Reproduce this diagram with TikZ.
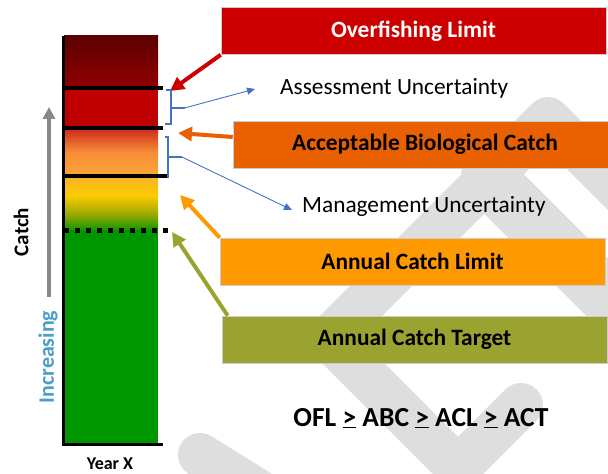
\documentclass[tikz,border=0pt]{standalone}
\usepackage{fontspec}
\setmainfont{Carlito}
\usetikzlibrary{arrows.meta}
\definecolor{wm}{RGB}{222,222,222}
\definecolor{oflred}{RGB}{204,0,0}
\definecolor{abcor}{RGB}{232,96,0}
\definecolor{aclor}{RGB}{255,153,0}
\definecolor{actol}{RGB}{155,163,48}
\definecolor{blueline}{RGB}{68,114,196}
\definecolor{incblue}{RGB}{75,158,200}
\definecolor{graya}{RGB}{136,136,136}
\definecolor{barred}{RGB}{190,0,0}
\definecolor{bargreen}{RGB}{0,150,0}
\begin{document}
\begin{tikzpicture}[x=1pt,y=1pt,
  box/.style={minimum width=385pt, minimum height=47pt, inner sep=0pt,
    font=\fontsize{23.4}{28}\selectfont\bfseries, draw=black!20, line width=0.6pt},
  plain/.style={font=\fontsize{23.3}{28}\selectfont, inner sep=0pt},
  bigarrow/.style={line width=4pt, -{Triangle[length=14pt,width=14pt]}},
  thinarrow/.style={line width=0.9pt, blueline, -{Triangle[length=8pt,width=7pt]}},
  brk/.style={line width=2pt, blueline},
  wmband/.style={wm, line cap=round, line join=round},
  blk/.style={line width=3.5pt, black}
]
\useasboundingbox (0,0) rectangle (608,474);
% watermark
\begin{scope}
\clip (0,0) rectangle (608,474);
\draw[wmband, line width=44pt] (680,223) -- (548,355) -- (328.5,135.5) -- (458,6) -- (521,69);
\draw[wmband, line width=56pt] (488.5,295.5) -- (700,84);
\draw[wmband, line width=44pt] (200,19) -- (327,-60);
\end{scope}
% bar
\shade[top color={rgb,255:red,92;green,0;blue,0}, bottom color={rgb,255:red,145;green,0;blue,0}] (64,386) rectangle (158,438);
\fill[barred] (64,346) rectangle (158,386);
\shade[top color={rgb,255:red,205;green,40;blue,25}, bottom color={rgb,255:red,252;green,168;blue,55}, middle color={rgb,255:red,247;green,140;blue,55}] (64,298) rectangle (158,346);
\shade[top color={rgb,255:red,251;green,178;blue,40}, bottom color={rgb,255:red,252;green,204;blue,0}] (64,278) rectangle (158,298.5);
\shade[top color={rgb,255:red,252;green,204;blue,0}, bottom color={rgb,255:red,10;green,150;blue,0}, middle color={rgb,255:red,160;green,170;blue,0}] (64,243) rectangle (158,278.5);
\fill[bargreen] (64,29) rectangle (158,243.5);
\draw[blk] (64,386) -- (163,386);
\draw[blk] (64,346) -- (163,346);
\draw[blk] (64,298) -- (168,298);
\draw[line width=5pt, dash pattern=on 5pt off 6pt] (64,243) -- (168,243);
\draw[line width=3pt] (63.5,438) -- (63.5,27.5);
\draw[line width=3pt] (62,29) -- (163,29);
% axis arrow and labels
\draw[line width=4pt, graya, -{Triangle[length=12pt,width=12pt]}] (49,177) -- (49,367);
\node[font=\fontsize{21}{24}\selectfont\bfseries, rotate=90] (catch) at (21,242) {Catch};
\node[font=\fontsize{22}{24}\selectfont\bfseries, rotate=90, text=incblue] (inc) at (48,117) {Increasing};
\node[font=\fontsize{18}{20}\selectfont\bfseries] (year) at (110,10) {Year X};
% boxes
\node[box, fill=oflred, text=white] (ofl) at (413.5,443) {Overfishing Limit};
\node[box, fill=abcor, minimum width=384pt] (abc) at (425,329.5) {Acceptable Biological Catch};
\node[box, fill=aclor] (acl) at (412.5,212.5) {Annual Catch Limit};
\node[box, fill=actol] (act) at (414.5,134.5) {Annual Catch Target};
\node[plain, anchor=west] (au) at (280,386) {Assessment Uncertainty};
\node[plain, anchor=west] (mu) at (302,268) {Management Uncertainty};
\node[font=\fontsize{27.5}{30}\selectfont\bfseries] (rel) at (421,56) {OFL \underline{>} ABC \underline{>} ACL \underline{>} ACT};
% arrows
\coordinate (tipofl) at (170,383);
\coordinate (tipabc) at (178,341);
\coordinate (tipacl) at (180,279);
\coordinate (tipact) at (172,242);
\draw[bigarrow, oflred] (ofl.south west) -- (tipofl);
\draw[bigarrow, abcor] ([yshift=7.5pt]abc.west) -- (tipabc);
\draw[bigarrow, aclor] (acl.north west) -- (tipacl);
\draw[bigarrow, actol] ([xshift=6pt]act.north west) -- (tipact);
% brackets
\draw[brk] (166,384) -- (170.5,384) -- (170.5,350) -- (165,350);
\coordinate (b1) at (170.5,366);
\draw[brk] (b1) -- ++(14,0) coordinate (b1e);
\coordinate (tipau) at (255,385);
\draw[thinarrow] (b1e) -- (tipau);
\draw[brk] (165,337) -- (168,337) -- (168,296);
\coordinate (b2) at (168,317);
\draw[brk] (b2) -- ++(14,0) coordinate (b2e);
\coordinate (tipmu) at (292,264);
\draw[thinarrow] (b2e) -- (tipmu);
\end{tikzpicture}
\end{document}
